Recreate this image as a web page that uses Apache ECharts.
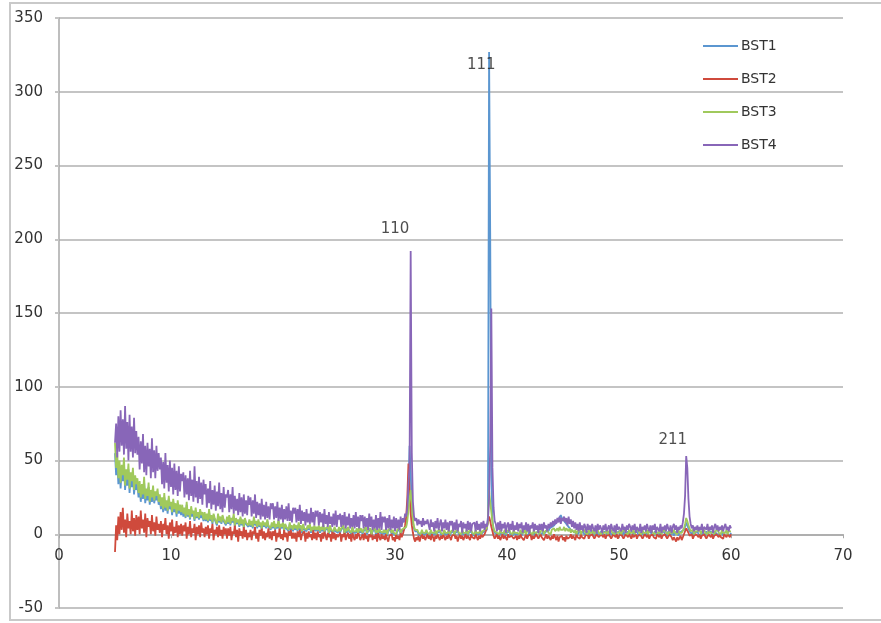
<!DOCTYPE html>
<html>
<head>
<meta charset="utf-8">
<title>BST XRD</title>
<script src="https://cdn.jsdelivr.net/npm/echarts@6/dist/echarts.min.js"></script>
<style>
  html, body { margin: 0; padding: 0; background: #fff; }
  #chart { width: 881px; height: 623px; }
</style>
</head>
<body>
<div id="chart"></div>
<script>
// Scan grid: 2-theta from 5.0 to 60.0 degrees in 0.1 degree steps
const scanStart = 5.0;
const scanStep = 0.1;

const seriesNames = ['BST1', 'BST2', 'BST3', 'BST4'];
const seriesColors = ['#5b96d0', '#cf4a3c', '#a0c95c', '#8866b8'];

// Intensity values, one row per 2 degrees (20 steps)
const bst1 = [
  55, 40, 50, 34, 46, 31, 43, 36, 48, 30, 40, 33, 44, 28, 38, 32, 41, 27, 36, 30,
  34, 25, 32, 22, 31, 24, 35, 21, 28, 23, 32, 20, 27, 22, 30, 21, 26, 23, 28, 20,
  24, 17, 23, 15, 25, 16, 21, 14, 24, 17, 20, 13, 22, 15, 19, 12, 21, 14, 18, 13,
  18, 12, 16, 11, 20, 12, 15, 10, 17, 12, 14, 9, 16, 11, 14, 10, 15, 11, 13, 9,
  13, 9, 12, 8, 15, 9, 12, 7, 13, 10, 11, 6, 12, 8, 11, 7, 12, 9, 10, 6,
  11, 7, 12, 6, 10, 8, 12, 5, 10, 7, 9, 5, 11, 6, 9, 4, 10, 7, 8, 5,
  9, 5, 8, 4, 10, 6, 8, 4, 9, 5, 7, 3, 8, 5, 7, 4, 9, 5, 6, 3,
  7, 4, 8, 3, 6, 4, 9, 3, 6, 4, 7, 2, 6, 4, 5, 2, 7, 3, 5, 2,
  6, 3, 5, 2, 7, 3, 5, 1, 6, 3, 4, 2, 5, 3, 6, 1, 4, 2, 5, 2,
  4, 2, 5, 1, 4, 2, 6, 1, 3, 2, 4, 0, 5, 2, 3, 1, 4, 2, 3, 1,
  4, 1, 3, 2, 5, 0, 3, 1, 4, 2, 3, 0, 4, 1, 2, 1, 3, 0, 4, 1,
  3, 0, 2, 1, 4, 0, 2, 1, 3, -1, 2, 1, 3, 0, 2, 0, 3, 1, 2, 0,
  2, 0, 3, -1, 2, 1, 3, 0, 2, 0, 1, -1, 2, 1, 3, 0, 2, 1, 3, 2,
  6, 14, 30, 60, 42, 18, 8, 4, 2, 1, 2, 0, 1, -1, 2, 0, 1, 0, 2, 0,
  1, -1, 2, 0, 1, 0, 2, -1, 1, 0, 2, 0, 1, -1, 2, 0, 1, 0, 2, -1,
  1, 0, 2, -1, 1, 0, 2, 0, 1, -1, 2, 0, 1, 0, 2, -1, 1, 0, 2, 0,
  1, -1, 2, 0, 1, 0, 2, -1, 1, 0, 2, 1, 3, 12, 327, 205, 40, 10, 3, 1,
  2, 0, 1, -1, 2, 0, 1, 0, 2, -1, 1, 0, 2, 0, 1, -1, 2, 0, 1, 0,
  1, 0, 2, -1, 1, 0, 2, 0, 1, -1, 2, 0, 1, 0, 2, -1, 1, 0, 2, 0,
  1, 0, 2, 0, 1, 2, 3, 2, 4, 3, 5, 4, 6, 5, 8, 7, 10, 9, 13, 11,
  12, 9, 10, 7, 8, 5, 6, 3, 4, 2, 3, 1, 2, 0, 1, 2, 0, 1, 2, 0,
  1, 0, 2, -1, 1, 0, 2, 0, 1, -1, 2, 0, 1, 0, 2, -1, 1, 0, 2, 0,
  1, -1, 2, 0, 1, 0, 2, -1, 1, 0, 2, 0, 1, -1, 2, 0, 1, 0, 2, -1,
  1, 0, 2, -1, 1, 0, 2, 0, 1, -1, 2, 0, 1, 0, 2, -1, 1, 0, 2, 0,
  1, -1, 2, 0, 1, 0, 2, -1, 1, 0, 2, 0, 1, -1, 2, 0, 1, 0, 2, -1,
  1, 0, 2, -1, 1, 0, 2, 1, 3, 5, 8, 6, 4, 2, 1, 0, 2, -1, 1, 0,
  2, 0, 1, -1, 2, 0, 1, 0, 2, -1, 1, 0, 2, 0, 1, -1, 2, 0, 1, 0,
  1, 0, 2, -1, 1, 0, 2, 0, 1, -1, 1
];

const bst2 = [
  -12, 6, -4, 12, 0, 15, 3, 18, 1, 10, -2, 14, 4, 9, 0, 16, 2, 11, -1, 13,
  3, 12, 0, 16, 4, 10, 1, 14, -2, 11, 5, 9, 0, 13, 2, 8, -1, 12, 3, 7,
  1, 9, -2, 7, 3, 11, 0, 6, -3, 8, 2, 10, -1, 5, 1, 9, -2, 6, 0, 7,
  -1, 6, 2, 8, -3, 5, 0, 9, -2, 4, 1, 7, -4, 5, 0, 6, -2, 8, 1, 4,
  -2, 5, 0, 6, -3, 4, 1, 7, -4, 3, 0, 5, -2, 6, -1, 3, -3, 5, 0, 4,
  -3, 4, -1, 5, -4, 2, 0, 6, -2, 3, -5, 4, -1, 2, -3, 5, -2, 3, -4, 1,
  -2, 3, -4, 2, 0, 5, -3, 1, -5, 3, -1, 4, -3, 2, -4, 1, -2, 4, -3, 2,
  -4, 2, -1, 3, -5, 1, -2, 4, -3, 0, -4, 3, -2, 1, -5, 2, -1, 3, -3, 1,
  -3, 1, -5, 2, -2, 3, -4, 0, -1, 2, -5, 1, -3, 2, -2, 0, -4, 3, -3, 1,
  -4, 2, -2, 0, -5, 1, -3, 2, -1, -4, 1, -2, 0, -5, 2, -3, 1, -4, 0, -2,
  -3, 1, -5, 0, -2, 2, -4, -1, 1, -3, 0, -5, 1, -2, -4, 0, -3, 2, -1, -4,
  -2, 0, -4, 1, -3, -1, -5, 0, -2, 1, -4, -1, -3, 0, -5, 1, -2, -4, 0, -3,
  -1, -4, 0, -3, -5, -1, -2, 0, -4, -2, -5, 0, -3, -1, -4, 1, -2, 0, 3, 6,
  12, 25, 48, 30, 14, 6, 1, -3, -5, -2, -4, -1, -5, -2, 0, -3, -1, -4, -2, 0,
  -3, -1, -4, 0, -2, -5, -1, -3, 0, -2, -4, -1, -3, 0, -2, -4, -1, -3, 0, -2,
  -4, -1, -2, 0, -3, -1, -5, -2, 0, -3, -1, -4, -2, 0, -3, -1, -2, -4, 0, -2,
  -1, -3, 0, -2, -4, -1, -3, 0, -2, -1, 0, 2, 5, 8, 12, 9, 5, 2, -1, -3,
  -2, 0, -3, -1, -4, -2, 0, -3, -1, -2, -4, 0, -2, -3, -1, 0, -3, -2, -1, -4,
  -1, -3, 0, -2, -1, -4, -2, 0, -3, -1, -2, 0, -4, -1, -3, -2, 0, -1, -3, -2,
  0, -2, -1, -4, -2, 0, -3, -1, -2, -4, -1, -3, 0, -2, -4, -1, -5, -2, -3, -1,
  -4, -2, -5, -1, -3, -4, -2, 0, -3, -1, -2, -4, 0, -2, -1, -3, 0, -2, -1, -3,
  -1, -2, 0, -3, -1, -2, 0, -1, -3, -2, 0, -1, -2, -3, 0, -1, -2, 0, -3, -1,
  -2, 0, -1, -3, -2, 0, -1, -2, 0, -3, -1, -2, 0, -1, -3, -2, 0, -1, -2, 0,
  -1, -3, 0, -2, -1, 0, -3, -1, -2, 0, -1, -3, -2, 0, -1, -2, 0, -3, -1, -2,
  0, -2, -1, -3, 0, -1, -2, 0, -3, -1, -2, 0, -1, -3, -2, 0, -1, -2, -4, -2,
  -3, -5, -2, -4, -3, -1, -4, -2, 0, 2, 4, 3, 1, -1, -2, 0, -3, -1, -2, 0,
  -1, -2, 0, -3, -1, -2, 0, -1, -3, -2, 0, -1, -2, 0, -3, -1, -2, 0, -1, -2,
  0, -2, -1, -3, 0, -1, -2, 0, -1, -2, 0
];

const bst3 = [
  62, 45, 55, 38, 50, 35, 47, 40, 52, 33, 44, 37, 48, 31, 42, 36, 45, 30, 40, 34,
  38, 28, 36, 25, 34, 27, 39, 24, 31, 26, 35, 22, 30, 25, 33, 23, 29, 26, 31, 22,
  27, 19, 25, 17, 28, 18, 23, 16, 26, 19, 22, 15, 24, 17, 21, 14, 23, 16, 20, 15,
  20, 14, 18, 12, 22, 13, 17, 11, 19, 14, 16, 10, 18, 12, 15, 11, 17, 13, 15, 10,
  15, 10, 14, 9, 17, 10, 13, 8, 14, 11, 12, 7, 14, 9, 12, 8, 13, 10, 11, 7,
  12, 8, 13, 7, 11, 9, 14, 6, 11, 8, 10, 6, 12, 7, 10, 5, 11, 8, 9, 6,
  10, 6, 9, 5, 12, 7, 9, 5, 10, 6, 8, 4, 9, 6, 8, 5, 10, 6, 7, 4,
  8, 5, 9, 4, 7, 5, 10, 4, 7, 5, 8, 3, 7, 5, 6, 3, 8, 4, 6, 3,
  7, 4, 6, 3, 8, 4, 6, 2, 7, 4, 5, 3, 6, 4, 7, 2, 5, 3, 6, 3,
  5, 3, 6, 2, 5, 3, 7, 2, 4, 3, 5, 1, 6, 3, 4, 2, 5, 3, 4, 2,
  5, 2, 4, 3, 6, 1, 4, 2, 5, 3, 4, 1, 5, 2, 3, 2, 4, 1, 5, 2,
  4, 1, 3, 2, 5, 1, 3, 2, 4, 0, 3, 2, 4, 1, 3, 1, 4, 2, 3, 1,
  3, 1, 4, 0, 3, 2, 4, 1, 3, 1, 2, 0, 3, 2, 4, 1, 3, 2, 4, 3,
  5, 9, 16, 24, 30, 20, 10, 5, 3, 2, 3, 1, 2, 0, 3, 1, 2, 1, 3, 1,
  2, 0, 3, 1, 2, 1, 3, 0, 2, 1, 3, 1, 2, 0, 3, 1, 2, 1, 3, 0,
  2, 1, 3, 0, 2, 1, 3, 1, 2, 0, 3, 1, 2, 1, 3, 0, 2, 1, 3, 1,
  2, 0, 3, 1, 2, 1, 3, 0, 2, 1, 3, 2, 4, 8, 30, 22, 15, 8, 4, 2,
  3, 1, 2, 0, 3, 1, 2, 1, 3, 0, 2, 1, 3, 1, 2, 0, 3, 1, 2, 1,
  2, 0, 3, 1, 2, 1, 3, 0, 2, 1, 3, 1, 2, 0, 3, 1, 2, 1, 3, 0,
  2, 1, 3, 0, 2, 1, 3, 1, 2, 0, 3, 2, 4, 2, 3, 4, 2, 5, 3, 4,
  3, 5, 2, 4, 3, 2, 4, 1, 3, 2, 1, 3, 0, 2, 1, 3, 0, 2, 1, 3,
  1, 2, 0, 3, 1, 2, 1, 3, 0, 2, 1, 3, 1, 2, 0, 3, 1, 2, 1, 3,
  0, 2, 1, 3, 1, 2, 0, 3, 1, 2, 1, 3, 0, 2, 1, 3, 1, 2, 0, 3,
  1, 2, 1, 3, 0, 2, 1, 3, 1, 2, 0, 3, 1, 2, 1, 3, 0, 2, 1, 3,
  1, 2, 0, 3, 1, 2, 1, 3, 0, 2, 1, 3, 1, 2, 0, 3, 1, 2, 1, 3,
  1, 2, 0, 3, 1, 2, 1, 2, 4, 7, 11, 9, 6, 4, 2, 1, 3, 0, 2, 1,
  2, 1, 3, 0, 2, 1, 3, 1, 2, 0, 3, 1, 2, 1, 3, 0, 2, 1, 3, 1,
  2, 0, 3, 1, 2, 1, 3, 0, 2, 1, 2
];

const bst4 = [
  62, 75, 52, 80, 56, 84, 60, 78, 54, 87, 58, 76, 50, 81, 56, 73, 52, 79, 55, 70,
  54, 66, 44, 63, 48, 68, 42, 60, 40, 62, 46, 58, 38, 65, 42, 57, 38, 60, 43, 55,
  44, 52, 34, 49, 31, 55, 35, 47, 29, 50, 32, 45, 27, 48, 30, 43, 26, 46, 29, 41,
  36, 42, 25, 40, 27, 38, 23, 43, 26, 37, 22, 46, 25, 36, 21, 39, 24, 35, 20, 37,
  27, 34, 18, 31, 21, 36, 17, 30, 20, 33, 16, 29, 19, 35, 17, 28, 15, 32, 18, 27,
  25, 30, 15, 27, 17, 32, 14, 26, 16, 24, 13, 28, 15, 25, 12, 27, 14, 23, 13, 26,
  20, 25, 12, 23, 14, 27, 11, 22, 13, 21, 10, 24, 12, 20, 10, 22, 11, 19, 10, 21,
  17, 21, 10, 19, 11, 22, 9, 18, 10, 20, 8, 17, 10, 19, 9, 21, 9, 16, 8, 18,
  14, 18, 8, 17, 9, 20, 7, 16, 9, 15, 6, 17, 8, 14, 7, 18, 8, 15, 6, 16,
  12, 16, 6, 15, 8, 14, 5, 17, 7, 13, 5, 15, 7, 12, 5, 14, 6, 16, 5, 13,
  10, 14, 5, 13, 6, 15, 4, 12, 6, 14, 4, 11, 5, 13, 4, 15, 5, 12, 4, 13,
  9, 13, 4, 12, 5, 11, 3, 14, 5, 12, 3, 10, 4, 13, 3, 11, 4, 15, 3, 12,
  8, 12, 3, 11, 4, 13, 3, 10, 4, 12, 2, 11, 4, 10, 3, 12, 5, 11, 8, 14,
  12, 18, 35, 45, 192, 55, 22, 12, 9, 11, 6, 10, 7, 9, 5, 11, 6, 9, 7, 10,
  9, 3, 10, 5, 8, 2, 9, 4, 11, 3, 7, 10, 2, 8, 4, 10, 3, 8, 2, 9,
  6, 9, 2, 8, 3, 10, 2, 7, 5, 9, 1, 8, 4, 7, 2, 9, 3, 8, 2, 7,
  6, 8, 2, 9, 3, 7, 2, 8, 4, 9, 3, 7, 5, 10, 25, 60, 153, 45, 18, 9,
  7, 2, 8, 3, 9, 2, 7, 4, 8, 1, 6, 8, 2, 7, 3, 9, 2, 6, 3, 8,
  2, 7, 4, 8, 1, 6, 3, 8, 2, 7, 1, 6, 4, 8, 2, 7, 3, 6, 1, 7,
  3, 7, 2, 8, 4, 6, 2, 7, 4, 8, 5, 9, 6, 10, 7, 11, 8, 12, 7, 11,
  9, 12, 8, 11, 6, 12, 7, 10, 5, 9, 4, 8, 3, 7, 2, 8, 3, 6, 2, 7,
  5, 1, 7, 3, 6, 2, 7, 4, 2, 6, 1, 7, 3, 6, 4, 1, 6, 3, 7, 2,
  3, 6, 1, 7, 4, 2, 6, 1, 7, 3, 5, 6, 2, 7, 3, 5, 1, 6, 3, 7,
  5, 2, 6, 3, 7, 1, 5, 6, 2, 7, 1, 5, 3, 6, 2, 7, 4, 2, 6, 1,
  6, 3, 7, 1, 5, 6, 2, 7, 1, 5, 3, 6, 2, 7, 4, 2, 6, 1, 5, 7,
  3, 6, 1, 5, 3, 6, 4, 8, 14, 26, 53, 45, 24, 12, 7, 4, 6, 2, 5, 3,
  6, 2, 5, 3, 7, 1, 5, 6, 3, 7, 2, 5, 3, 6, 1, 5, 7, 3, 6, 2,
  5, 3, 6, 2, 5, 7, 3, 5, 2, 6, 4
];

// Reflection indices written above the peaks: [2-theta, height, label]
const peakLabels = [
  [30.0, 207, '110'],
  [37.7, 318, '111'],
  [45.6, 23, '200'],
  [54.8, 64, '211']
];

const xTicks = { min: 0, max: 70, interval: 10 };
const yTicks = { min: -50, max: 350, interval: 50 };

const allValues = [bst1, bst2, bst3, bst4];

function toPoints(values) {
  return values.map((v, i) => [+(scanStart + i * scanStep).toFixed(2), v]);
}

// Plot area geometry
const gridTop = 18;
const gridBottom = 15;
const chartHeight = 623;
const plotHeight = chartHeight - gridTop - gridBottom;
// Lift the x axis so that it crosses the y axis at zero
const xAxisLift = plotHeight * (0 - yTicks.min) / (yTicks.max - yTicks.min);

const textFont = 'DejaVu Sans';
const lineSeries = seriesNames.map((name, k) => ({
  name: name,
  type: 'line',
  data: toPoints(allValues[k]),
  showSymbol: false,
  symbol: 'none',
  lineStyle: { color: seriesColors[k], width: 1.8 },
  itemStyle: { color: seriesColors[k] },
  z: 2 + k
}));

const chart = echarts.init(document.getElementById('chart'), null, { renderer: 'canvas' });
chart.setOption({
  animation: false,
  backgroundColor: '#ffffff',
  textStyle: { fontFamily: textFont },
  graphic: [{
    type: 'rect',
    shape: { x: 10, y: 3, width: 880, height: 617 },
    style: { fill: 'none', stroke: '#c9c9c9', lineWidth: 2 },
    silent: true,
    z: -10
  }],
  grid: {
    left: 59, right: 38, top: gridTop, bottom: gridBottom,
    containLabel: false, outerBoundsMode: 'none'
  },
  legend: {
    data: seriesNames,
    orient: 'vertical',
    left: 703,
    top: 39,
    padding: 0,
    icon: 'rect',
    itemWidth: 35,
    itemHeight: 2,
    itemGap: 19,
    textStyle: { fontSize: 14, color: '#333', fontFamily: textFont, padding: [0, 0, 0, -2] }
  },
  xAxis: {
    type: 'value',
    min: xTicks.min,
    max: xTicks.max,
    interval: xTicks.interval,
    offset: -xAxisLift,
    axisLine: { onZero: false, lineStyle: { color: '#a8a8a8', width: 1.5 } },
    axisTick: { show: true, length: 4, lineStyle: { color: '#a8a8a8' } },
    axisLabel: { fontSize: 15, color: '#333', margin: 14, fontFamily: textFont },
    splitLine: { show: false }
  },
  yAxis: {
    type: 'value',
    min: yTicks.min,
    max: yTicks.max,
    interval: yTicks.interval,
    axisLine: { show: true, onZero: false, lineStyle: { color: '#a8a8a8', width: 1.5 } },
    axisTick: { show: true, length: 4, lineStyle: { color: '#c4c4c4', width: 2 } },
    axisLabel: { fontSize: 15, color: '#333', margin: 16, fontFamily: textFont },
    splitLine: { show: true, lineStyle: { color: '#c4c4c4', width: 2 } }
  },
  series: lineSeries.concat([{
    name: 'peaks',
    type: 'scatter',
    data: peakLabels,
    symbolSize: 0,
    silent: true,
    z: 10,
    label: {
      show: true,
      position: 'inside',
      formatter: p => p.value[2],
      fontSize: 15,
      color: '#222',
      fontFamily: textFont
    }
  }])
});
</script>
</body>
</html>
